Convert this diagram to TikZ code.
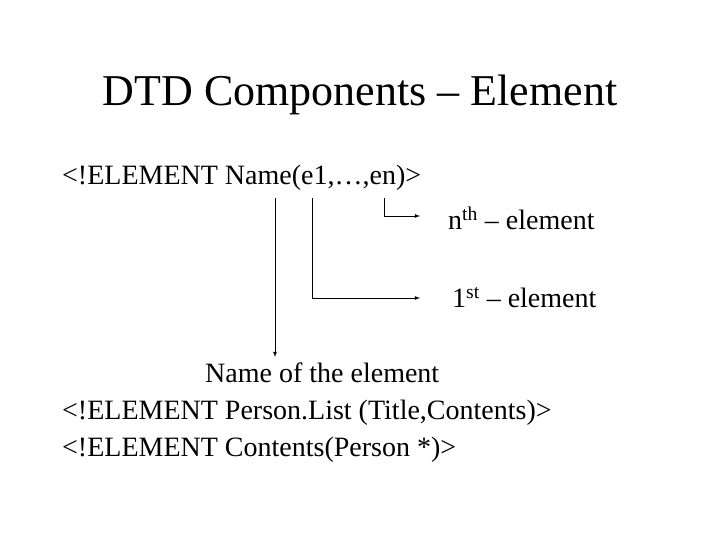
\documentclass[tikz,border=0pt]{standalone}
\usepackage{fontspec}
\setmainfont{Liberation Serif}
\begin{document}
\begin{tikzpicture}[x=1pt,y=-1pt,
  body/.style={inner sep=0pt,font=\fontsize{28}{32}\selectfont},
  arr/.style={-latex,thick}]
\useasboundingbox (0,0) rectangle (720,540);
\node[inner sep=0pt,font=\fontsize{44}{48}\selectfont] (title) at (360,95) {DTD Components – Element};
\node[body,anchor=west] (decl) at (62,178) {<!ELEMENT Name(e1,…,en)>};
\node[body,anchor=west] (nth) at (448,218) {n\textsuperscript{th} – element};
\node[body,anchor=west] (first) at (452,298) {1\textsuperscript{st} – element};
\node[body,anchor=west] (name) at (205,373) {Name of the element};
\node[body,anchor=west] (l2) at (62,413) {<!ELEMENT Person.List (Title,Contents)>};
\node[body,anchor=west] (l3) at (62,450) {<!ELEMENT Contents(Person *)>};
\coordinate (a1) at (275,198);
\coordinate (a2) at (312,198);
\coordinate (a3) at (384,198);
\draw[arr] (a1) -- (275,357);
\draw[arr] (a2) -- (312,298) -- (420,298);
\draw[arr] (a3) -- (384,216) -- (420,216);
\end{tikzpicture}
\end{document}
